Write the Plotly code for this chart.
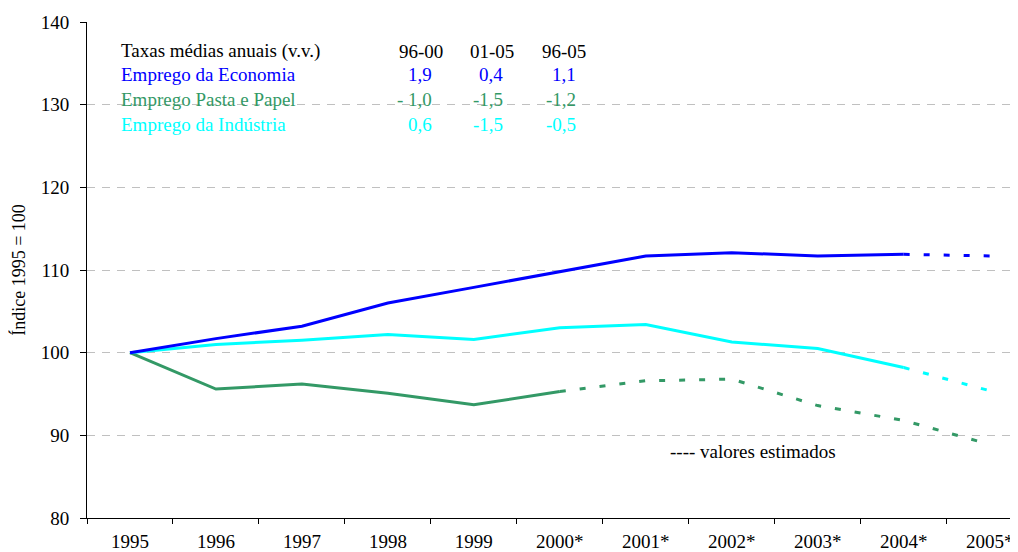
import plotly.graph_objects as go

categories = ["1995", "1996", "1997", "1998", "1999", "2000*", "2001*", "2002*", "2003*", "2004*", "2005*"]
economia = [100.0, 101.7, 103.2, 106.0, 107.9, 109.8, 111.7, 112.1, 111.7, 111.9, 111.7]
pasta_papel = [100.0, 95.6, 96.2, 95.1, 93.7, 95.3, 96.6, 96.8, 93.6, 91.8, 88.9]
industria = [100.0, 101.0, 101.5, 102.2, 101.6, 103.0, 103.4, 101.3, 100.5, 98.2, 95.4]

# index where estimated values begin (dashed segment starts here)
est_start_economia = 9
est_start_pasta = 5
est_start_industria = 9

table_header = ["Taxas médias anuais (v.v.)", "96-00", "01-05", "96-05"]
table_rows = [
    ("Emprego da Economia", ["1,9", "0,4", "1,1"]),
    ("Emprego Pasta e Papel", ["- 1,0", "-1,5", "-1,2"]),
    ("Emprego da Indústria", ["0,6", "-1,5", "-0,5"]),
]
note_text = "---- valores estimados"
y_title = "Índice 1995 = 100"

BLUE = "#0000FF"
GREEN = "#339966"
CYAN = "#00FFFF"
FONT = "Liberation Serif, Times New Roman, serif"
FS = 19

# page body has an 8px margin; screen coords are offset by OFF
OFF = 8
W, H = 1018 - OFF, 552 - OFF
L, R, T, B = 87 - OFF, 0, 22 - OFF, 34
PW, PH = W - L - R, H - T - B


def px(x):
    return (x - OFF - L) / PW


def py(y):
    return (H - B - (y - OFF)) / PH


fig = go.Figure()
DASH = "6px,14px"
for vals, start, color in [
    (pasta_papel, est_start_pasta, GREEN),
    (industria, est_start_industria, CYAN),
    (economia, est_start_economia, BLUE),
]:
    fig.add_trace(go.Scatter(x=categories[: start + 1], y=vals[: start + 1], mode="lines",
                             line=dict(color=color, width=3), showlegend=False, hoverinfo="skip",
                             cliponaxis=False))
    fig.add_trace(go.Scatter(x=categories[start:], y=vals[start:], mode="lines",
                             line=dict(color=color, width=3, dash=DASH), showlegend=False, hoverinfo="skip",
                             cliponaxis=False))

fig.update_layout(
    width=W, height=H,
    margin=dict(l=L, r=R, t=T, b=B, pad=0, autoexpand=False),
    paper_bgcolor="white", plot_bgcolor="white",
    font=dict(family=FONT, size=FS, color="black"),
    showlegend=False,
)
fig.update_xaxes(
    type="category", categoryorder="array", categoryarray=categories,
    range=[-0.5, 10.33], showgrid=False, showline=True, linecolor="black", linewidth=1,
    ticks="outside", ticklen=5, tickcolor="black", tickson="boundaries",
    tickfont=dict(family=FONT, size=FS), zeroline=False, automargin=False,
    ticklabelstandoff=6, ticklabeloverflow="allow",
)
fig.update_yaxes(
    range=[80, 140], dtick=10, tick0=80, showgrid=True, gridcolor="#c0c0c0", gridwidth=1,
    griddash="8px,7px", showline=True, linecolor="black", linewidth=1,
    ticks="outside", ticklen=6, tickcolor="black", tickfont=dict(family=FONT, size=FS),
    ticklabelstandoff=7,
    zeroline=False, automargin=False,
    title=dict(text=y_title, font=dict(family=FONT, size=18), standoff=12),
)

# table annotations
row_y = [51, 75, 99, 124]
col_x = [434, 505, 578]
fig.add_annotation(x=px(119), y=py(row_y[0]), xref="paper", yref="paper", text=table_header[0],
                   showarrow=False, xanchor="left", yanchor="middle", font=dict(size=FS, color="black"))
for j, h in enumerate(table_header[1:]):
    fig.add_annotation(x=px([421, 492, 564][j]), y=py(row_y[0]), xref="paper", yref="paper", text=h,
                       showarrow=False, xanchor="center", yanchor="middle", font=dict(size=FS, color="black"))
for i, (label, vals) in enumerate(table_rows):
    color = [BLUE, GREEN, CYAN][i]
    fig.add_annotation(x=px(119), y=py(row_y[i + 1]), xref="paper", yref="paper", text=label,
                       showarrow=False, xanchor="left", yanchor="middle", font=dict(size=FS, color=color))
    for j, v in enumerate(vals):
        fig.add_annotation(x=px(col_x[j]), y=py(row_y[i + 1]), xref="paper", yref="paper", text=v,
                           showarrow=False, xanchor="right", yanchor="middle", font=dict(size=FS, color=color))

fig.add_annotation(x=px(668), y=py(451), xref="paper", yref="paper", text=note_text,
                   showarrow=False, xanchor="left", yanchor="middle", font=dict(size=FS, color="black"))

fig.write_html("out.html")
